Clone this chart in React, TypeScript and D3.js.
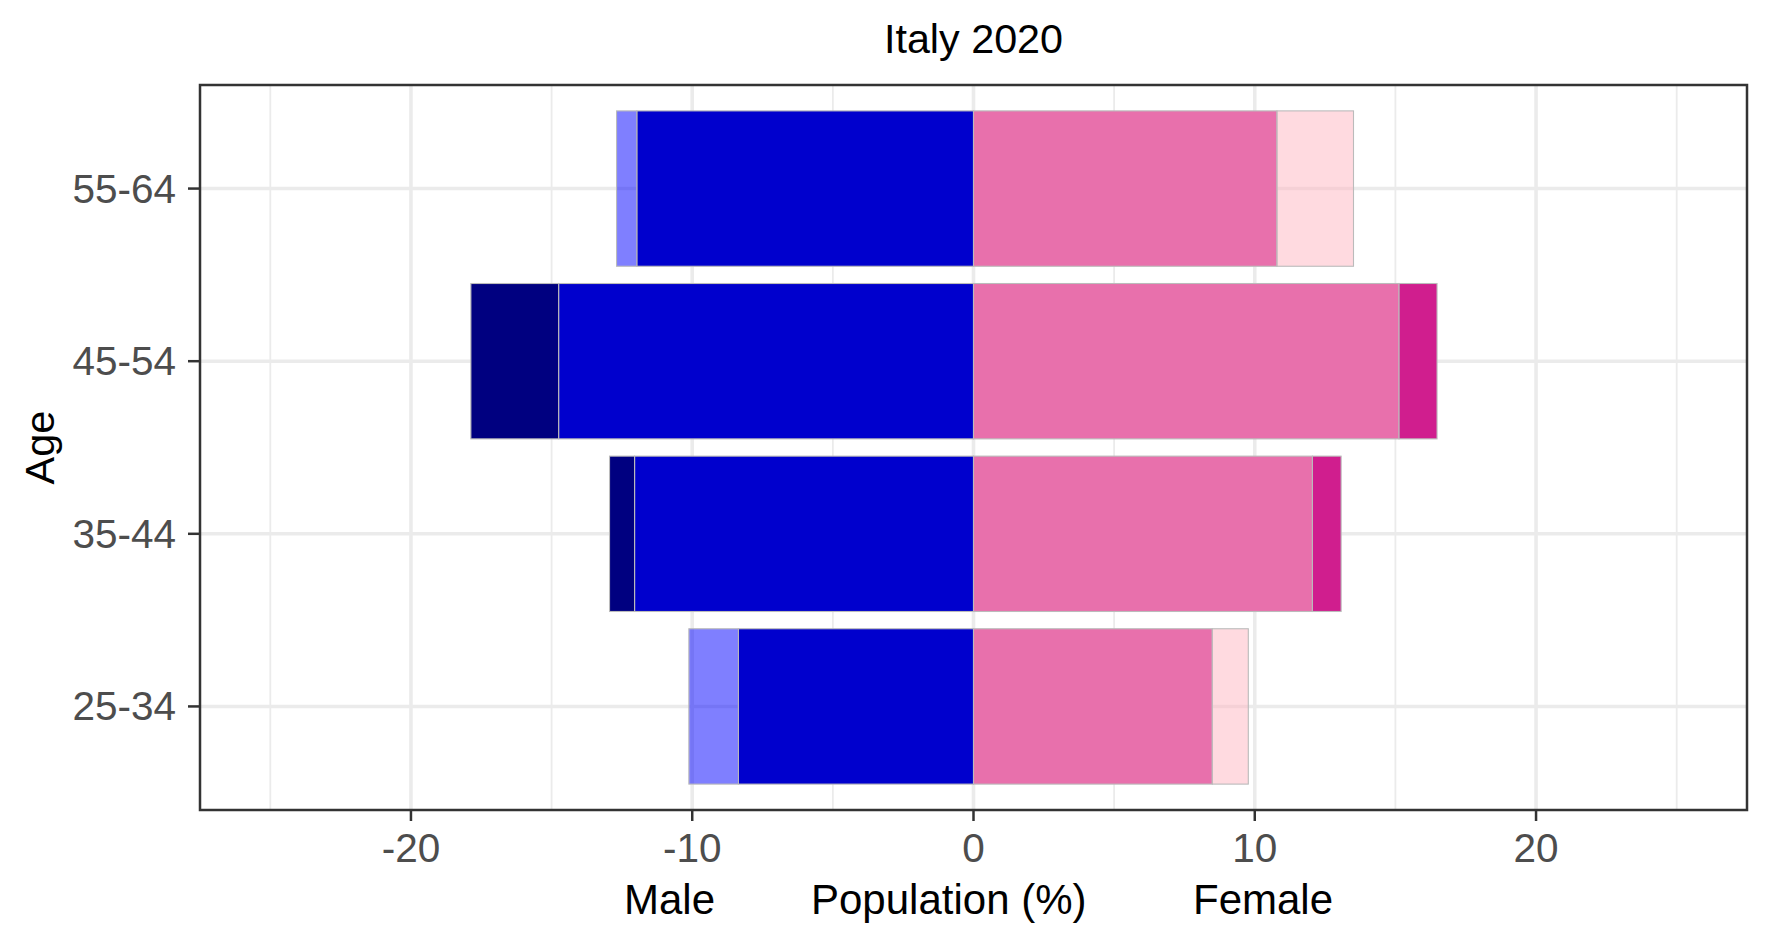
import React from "react";
import * as d3 from "d3";

// ---- data ----
const ages = ["55-64", "45-54", "35-44", "25-34"];
const maleInner = [11.97, 14.75, 12.05, 8.36];
const maleOuter = [12.69, 17.87, 12.94, 10.12];
const maleOuterKind = ["lower", "higher", "higher", "lower"];
const femaleInner = [10.79, 15.13, 12.05, 8.49];
const femaleOuter = [13.51, 16.48, 13.07, 9.77];
const femaleOuterKind = ["lower", "higher", "higher", "lower"];
const xTicks = [-20, -10, 0, 10, 20];
const xMinor = [-25, -15, -5, 5, 15, 25];
const title = "Italy 2020";

const W = 1771;
const H = 944;
const font = "'Liberation Sans', Arial, Helvetica, sans-serif";

const colors = {
  maleMain: "#0000CD",
  maleHigher: "#000080",
  maleLower: "rgba(0,0,255,0.5)",
  femaleMain: "#E870AC",
  femaleHigher: "#D01E8E",
  femaleLower: "rgba(255,182,193,0.5)",
};

export default function App() {
  const left = 200, right = 1747, top = 85, bottom = 810;
  const x = d3.scaleLinear().domain([-27.5, 27.5]).range([left, right]);
  const y = d3.scalePoint<string>().domain(ages).range([top, bottom]).padding(0.6);
  const bh = y.step() * 0.9;

  const segs: { x0: number; x1: number; cy: number; fill: string }[] = [];
  ages.forEach((a, i) => {
    const cy = y(a) as number;
    segs.push({ x0: -maleInner[i], x1: 0, cy, fill: colors.maleMain });
    segs.push({
      x0: -maleOuter[i], x1: -maleInner[i], cy,
      fill: maleOuterKind[i] === "higher" ? colors.maleHigher : colors.maleLower,
    });
    segs.push({ x0: 0, x1: femaleInner[i], cy, fill: colors.femaleMain });
    segs.push({
      x0: femaleInner[i], x1: femaleOuter[i], cy,
      fill: femaleOuterKind[i] === "higher" ? colors.femaleHigher : colors.femaleLower,
    });
  });

  return (
    <svg width={W} height={H} style={{ position: "absolute", left: 0, top: 0, background: "#fff" }}
      fontFamily={font}>
      <rect x={0} y={0} width={W} height={H} fill="#fff" />
      {/* grid */}
      {xMinor.map((t) => (
        <line key={"m" + t} x1={x(t)} x2={x(t)} y1={top} y2={bottom} stroke="#EBEBEB" strokeWidth={1.8} />
      ))}
      {xTicks.map((t) => (
        <line key={"M" + t} x1={x(t)} x2={x(t)} y1={top} y2={bottom} stroke="#EBEBEB" strokeWidth={3.6} />
      ))}
      {ages.map((a) => (
        <line key={"h" + a} x1={left} x2={right} y1={y(a)} y2={y(a)} stroke="#EBEBEB" strokeWidth={3.6} />
      ))}
      {/* bars */}
      {segs.map((s, i) => (
        <rect key={i} x={x(s.x0)} y={s.cy - bh / 2} width={x(s.x1) - x(s.x0)} height={bh}
          fill={s.fill} stroke="#BBBBBB" strokeWidth={1.1} />
      ))}
      {/* panel border */}
      <rect x={left} y={top} width={right - left} height={bottom - top} fill="none" stroke="#333333" strokeWidth={2.5} />
      {/* y axis */}
      {ages.map((a) => (
        <g key={"yt" + a}>
          <line x1={left - 12} x2={left} y1={y(a)} y2={y(a)} stroke="#333333" strokeWidth={2.5} />
          <text x={left - 24} y={(y(a) as number) + 14} textAnchor="end" fontSize={40.5} fill="#4D4D4D">{a}</text>
        </g>
      ))}
      {/* x axis */}
      {xTicks.map((t) => (
        <g key={"xt" + t}>
          <line x1={x(t)} x2={x(t)} y1={bottom} y2={bottom + 11} stroke="#333333" strokeWidth={2.5} />
          <text x={x(t)} y={862} textAnchor="middle" fontSize={40.5} fill="#4D4D4D">{t}</text>
        </g>
      ))}
      {/* axis titles */}
      <text x={624} y={914} fontSize={42} fill="#000">Male</text>
      <text x={811} y={914} fontSize={42} fill="#000">Population (%)</text>
      <text x={1193} y={914} fontSize={42} fill="#000">Female</text>
      <text transform={`translate(54,${(top + bottom) / 2}) rotate(-90)`} textAnchor="middle" fontSize={41.5} fill="#000">Age</text>
      {/* title */}
      <text x={(left + right) / 2} y={53} textAnchor="middle" fontSize={41.3} fill="#000">{title}</text>
    </svg>
  );
}
